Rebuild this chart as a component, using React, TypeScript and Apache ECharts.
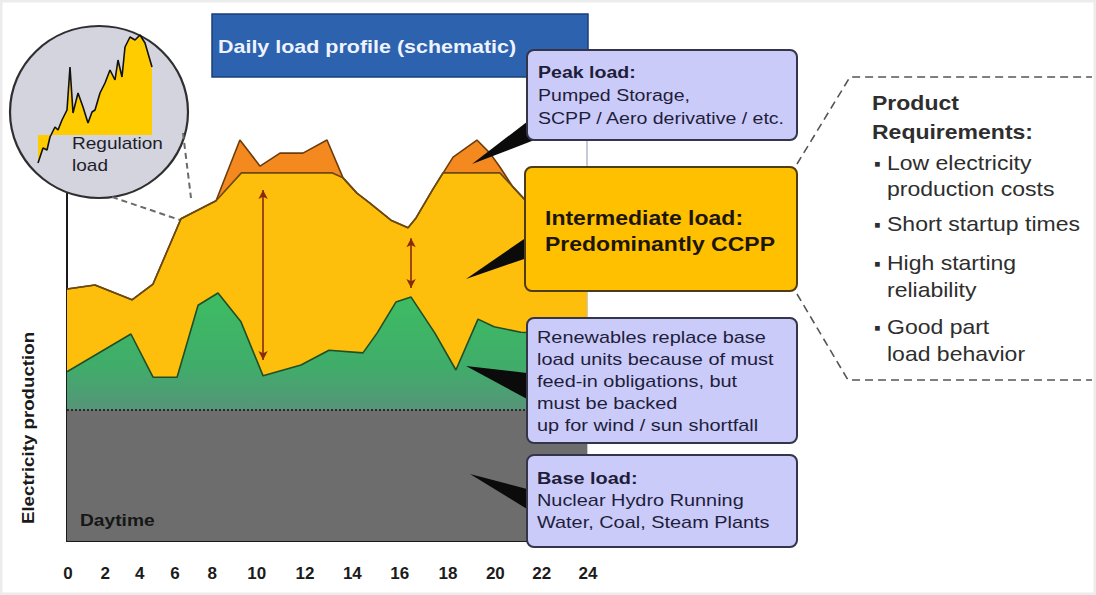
import React, { useEffect, useRef } from "react";
import * as echarts from "echarts";

// ---------- data ----------
const hourTicks = [0, 2, 4, 6, 8, 10, 12, 14, 16, 18, 20, 22, 24];

// total load (top of peak layer), [hour, relative production]
const totalLoad = [
  [0, 56.0], [1.29, 56.9], [3.0, 53.6], [3.97, 57.1], [5.26, 71.6], [6.88, 75.6],
  [7.98, 89.1], [8.91, 83.3], [9.83, 86.2], [10.89, 86.2], [12.0, 89.1], [12.74, 80.7],
  [13.38, 77.3], [13.98, 75.1], [14.95, 71.3], [15.74, 69.6], [16.11, 71.8], [16.89, 78.2],
  [17.82, 85.3], [18.92, 89.1], [19.52, 86.2], [19.98, 83.1], [20.58, 78.7], [21.14, 75.8],
  [24, 68.7],
];

// top of intermediate layer (capped where peak units take over)
const intermediateLoad = [
  [0, 56.0], [1.29, 56.9], [3.0, 53.6], [3.97, 57.1], [5.26, 71.6], [6.88, 75.6],
  [8.05, 81.8], [12.25, 81.8], [12.74, 80.7], [13.38, 77.3], [13.98, 75.1], [14.95, 71.3],
  [15.74, 69.6], [16.11, 71.8], [16.89, 78.2], [17.35, 81.8], [19.98, 81.8], [20.58, 78.7],
  [21.14, 75.8], [24, 68.7],
];

// top of renewables layer
const renewablesLoad = [
  [0, 37.6], [2.95, 46.0], [3.97, 36.4], [5.08, 36.4], [6.05, 52.4], [6.97, 55.1],
  [8.03, 48.7], [9.05, 36.7], [10.8, 39.1], [12.09, 42.4], [13.66, 41.8], [14.31, 46.2],
  [15.18, 53.1], [15.88, 54.2], [16.98, 46.2], [17.95, 38.0], [18.97, 49.3], [19.71, 47.6],
  [20.95, 46.4], [24, 46.0],
];

// base load level
const baseLoad = [[0, 29.1], [24, 29.1]];

// intermediate-load swing arrows: [hour, from, to]
const swingArrows = [
  [9.05, 78.0, 40.2],
  [15.88, 67.3, 56.2],
];

// regulation load detail (inset), [time step, load]
const regulationLoad = [
  [2, 12], [7, 27], [11, 25], [14, 38], [19, 48], [22, 45], [26, 55], [31, 65], [34, 108],
  [37, 62], [42, 82], [47, 68], [52, 52], [56, 63], [59, 65], [64, 82], [69, 92], [74, 105],
  [79, 95], [82, 115], [86, 98], [89, 128], [94, 138], [99, 135], [104, 140], [109, 132],
  [116, 108],
];

// texts
const titleText = "Daily load profile (schematic)";
const yAxisTitle = "Electricity production";
const peakLines = ["Peak load:", "Pumped Storage,", "SCPP / Aero derivative / etc."];
const intermediateLines = ["Intermediate load:", "Predominantly CCPP"];
const renewableLines = [
  "Renewables replace base",
  "load units because of must",
  "feed-in obligations, but",
  "must be backed",
  "up for wind / sun shortfall",
];
const baseLines = ["Base load:", "Nuclear Hydro Running", "Water, Coal, Steam Plants"];
const requirementsTitle = ["Product", "Requirements:"];
const requirementItems = [
  ["Low electricity", "production costs"],
  ["Short startup times"],
  ["High starting", "reliability"],
  ["Good part", "load behavior"],
];

// ---------- style constants ----------
const FONT = '"Liberation Sans", Arial, Helvetica, sans-serif';
const tickShift: Record<number, number> = {
  0: 1, 2: -5, 4: -14, 6: -22, 8: -28, 10: -27, 12: -22, 14: -18, 16: -14, 18: -9, 20: -5, 22: -2, 24: 1,
};

function txt(x: number, y: number, text: string, size: number, bold: boolean, fill: string, scaleX = 1.15, z = 21, extra: any = {}) {
  return {
    type: "text",
    x,
    y,
    scaleX,
    z,
    silent: true,
    style: {
      text,
      fontSize: size,
      fontWeight: bold ? "bold" : "normal",
      fontFamily: FONT,
      fill,
      verticalAlign: "middle",
      align: "left",
      ...extra,
    },
  };
}

function buildOption() {
  const rich: Record<string, any> = {};
  hourTicks.forEach((h) => {
    const d = tickShift[h] || 0;
    rich["t" + h] = {
      fontSize: 17,
      fontWeight: "bold",
      fontFamily: FONT,
      color: "#1b1b1b",
      padding: d < 0 ? [0, -2 * d, 0, 0] : [0, 0, 0, 2 * d],
    };
  });

  const graphics: any[] = [];
  // faint page frame
  graphics.push({ type: "rect", z: 0, silent: true, shape: { x: 1, y: 1, width: 1094, height: 593 }, style: { fill: "none", stroke: "#ececec", lineWidth: 3 } });
  // plot right frame line
  graphics.push({ type: "line", z: 1, silent: true, shape: { x1: 587, y1: 77, x2: 587, y2: 541 }, style: { stroke: "#8a97a8", lineWidth: 1 } });
  // title bar
  graphics.push({ type: "rect", z: 5, silent: true, shape: { x: 212, y: 14, width: 376, height: 63 }, style: { fill: "#2d62ae", stroke: "#1d3f78", lineWidth: 1.5 } });
  graphics.push(txt(218, 46, titleText, 19, true, "#eef3ff", 1.13, 6));

  // magnifier circle + connectors
  graphics.push({ type: "ellipse", z: 1, silent: true, shape: { cx: 99, cy: 112, rx: 89, ry: 86 }, style: { fill: "#d4d4de", stroke: "#2f2f2f", lineWidth: 2.2 } });
  graphics.push({ type: "line", z: 1, silent: true, shape: { x1: 183, y1: 133, x2: 191, y2: 198 }, style: { stroke: "#6a6a6a", lineWidth: 2, lineDash: [6, 4] } });
  graphics.push({ type: "line", z: 1, silent: true, shape: { x1: 112, y1: 197, x2: 183, y2: 221 }, style: { stroke: "#6a6a6a", lineWidth: 2, lineDash: [6, 4] } });
  graphics.push(txt(72, 143, "Regulation", 17, false, "#1e1e2a", 1.12, 4));
  graphics.push(txt(72, 165, "load", 17, false, "#1e1e2a", 1.12, 4));

  // axis texts
  graphics.push(txt(80, 521, "Daytime", 16, true, "#161616", 1.2, 4));
  graphics.push({
    type: "text", x: 28, y: 428, rotation: Math.PI / 2, scaleX: 1.1, z: 4, silent: true,
    style: { text: yAxisTitle, fontSize: 17, fontWeight: "bold", fontFamily: FONT, fill: "#1a1a1a", align: "center", verticalAlign: "middle" },
  });

  // callout wedges
  const wedges = [
    [[532, 118], [537, 139], [472, 164]],
    [[527, 237], [527, 258], [466, 279]],
    [[527, 373], [527, 399], [466, 366]],
    [[527, 489], [527, 509], [470, 474]],
  ];
  wedges.forEach((pts) => graphics.push({ type: "polygon", z: 19, silent: true, shape: { points: pts }, style: { fill: "#0b0b0b" } }));

  // boxes
  const lav = "#cbcbfa";
  graphics.push({ type: "rect", z: 20, silent: true, shape: { x: 527, y: 50, width: 270, height: 90, r: 7 }, style: { fill: lav, stroke: "#34344a", lineWidth: 2 } });
  graphics.push({ type: "rect", z: 20, silent: true, shape: { x: 525, y: 167, width: 272, height: 124, r: 7 }, style: { fill: "#ffc000", stroke: "#4e3d10", lineWidth: 2 } });
  graphics.push({ type: "rect", z: 20, silent: true, shape: { x: 527, y: 318, width: 270, height: 125, r: 7 }, style: { fill: lav, stroke: "#34344a", lineWidth: 2 } });
  graphics.push({ type: "rect", z: 20, silent: true, shape: { x: 527, y: 455, width: 270, height: 92, r: 7 }, style: { fill: lav, stroke: "#34344a", lineWidth: 2 } });

  const navy = "#1e1e3a";
  peakLines.forEach((t, i) => graphics.push(txt(538, 72 + i * 23, t, 17, i === 0, navy, 1.15)));
  intermediateLines.forEach((t, i) => graphics.push(txt(545, 218 + i * 26, t, 20, true, "#1c1608", 1.15)));
  renewableLines.forEach((t, i) => graphics.push(txt(537, 337 + i * 22, t, 17, false, navy, 1.17)));
  baseLines.forEach((t, i) => graphics.push(txt(537, 478 + i * 22, t, 17, i === 0, navy, 1.17)));

  // right panel
  graphics.push({ type: "polyline", z: 3, silent: true, shape: { points: [[797, 164], [850, 77], [1092, 77]] }, style: { fill: "none", stroke: "#555", lineWidth: 1.6, lineDash: [8, 5] } });
  graphics.push({ type: "polyline", z: 3, silent: true, shape: { points: [[797, 294], [848, 380], [1092, 380]] }, style: { fill: "none", stroke: "#555", lineWidth: 1.6, lineDash: [8, 5] } });
  const grey = "#2e2e2e";
  requirementsTitle.forEach((t, i) => graphics.push(txt(872, 103 + i * 29, t, 20, true, grey, 1.15)));
  const itemYs = [[163, 189], [224], [263, 290], [327, 354]];
  requirementItems.forEach((lines, i) => {
    graphics.push(txt(874, itemYs[i][0], "▪", 19, false, grey, 1.0));
    lines.forEach((t, j) => graphics.push(txt(887, itemYs[i][j], t, 20, false, grey, 1.15)));
  });

  const green = new echarts.graphic.LinearGradient(0, 0, 0, 1, [
    { offset: 0, color: "#3dbd62" },
    { offset: 0.3, color: "#40ac6a" },
    { offset: 0.48, color: "#57937a" },
    { offset: 0.6, color: "#6a7a72" },
    { offset: 1, color: "#6e6e6e" },
  ]);

  return {
    animation: false,
    backgroundColor: "#ffffff",
    grid: [
      { left: 67, right: 509, top: 91, bottom: 54 },
      { left: 36, right: 940, top: 30, bottom: 420 },
    ],
    xAxis: [
      {
        type: "value", gridIndex: 0, min: 0, max: 24, interval: 2,
        axisLine: { show: true, lineStyle: { color: "#1a1a1a", width: 2 } },
        axisTick: { show: false },
        splitLine: { show: false },
        axisLabel: { margin: 24, formatter: (v: number) => `{t${v}|${v}}`, rich },
      },
      { type: "value", gridIndex: 1, min: 0, max: 120, show: false },
    ],
    yAxis: [
      {
        type: "value", gridIndex: 0, min: 0, max: 100,
        axisLine: { show: true, lineStyle: { color: "#1a1a1a", width: 2 } },
        axisTick: { show: false },
        axisLabel: { show: false },
        splitLine: { show: false },
      },
      { type: "value", gridIndex: 1, min: 0, max: 145, show: false },
    ],
    series: [
      {
        name: "Peak load", type: "line", data: totalLoad, symbol: "none", z: 2,
        lineStyle: { color: "#6e3c0c", width: 1.6 },
        areaStyle: { color: "#f48a1f", opacity: 1 },
      },
      {
        name: "Intermediate load", type: "line", data: intermediateLoad, symbol: "none", z: 2,
        lineStyle: { color: "#6b4a10", width: 1.6 },
        areaStyle: { color: "#fdbe0c", opacity: 1 },
      },
      {
        name: "Renewables", type: "line", data: renewablesLoad, symbol: "none", z: 2,
        lineStyle: { color: "#1f4f26", width: 1.6 },
        areaStyle: { color: green, opacity: 1 },
      },
      {
        name: "Base load", type: "line", data: baseLoad, symbol: "none", z: 2,
        lineStyle: { color: "#2a2a2a", width: 2, type: "dotted" },
        areaStyle: { color: "#6d6d6d", opacity: 1 },
        markLine: {
          silent: true,
          symbol: ["arrow", "arrow"],
          symbolSize: [7, 9],
          label: { show: false },
          lineStyle: { color: "#8a2a08", width: 1.6, type: "solid" },
          data: swingArrows.map((a) => [{ coord: [a[0], a[1]] }, { coord: [a[0], a[2]] }]),
        },
      },
      {
        name: "Regulation load", type: "line", xAxisIndex: 1, yAxisIndex: 1, data: regulationLoad,
        symbol: "none", z: 3,
        lineStyle: { color: "#111", width: 1.6 },
        areaStyle: { color: "#ffcc00", opacity: 1, origin: 40 },
      },
    ],
    graphic: { elements: graphics },
  };
}

export default function App() {
  const ref = useRef<HTMLDivElement>(null);
  useEffect(() => {
    if (!ref.current) return;
    const chart = echarts.init(ref.current, null, { renderer: "svg" });
    chart.setOption(buildOption() as any);
    return () => chart.dispose();
  }, []);
  return (
    <div
      ref={ref}
      style={{ position: "absolute", left: 0, top: 0, width: 1096, height: 595, background: "#fff" }}
    />
  );
}
